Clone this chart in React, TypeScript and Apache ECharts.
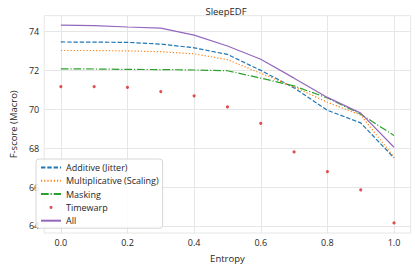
import React, { useEffect, useRef } from "react";
import * as echarts from "echarts";

const entropy = [0, 0.1, 0.2, 0.3, 0.4, 0.5, 0.6, 0.7, 0.8, 0.9, 1.0];
const additive = [73.46, 73.45, 73.44, 73.35, 73.16, 72.82, 72.0, 71.1, 69.95, 69.3, 67.5];
const multiplicative = [73.02, 73.02, 73.0, 72.96, 72.85, 72.55, 71.85, 71.15, 70.36, 69.7, 67.54];
const masking = [72.08, 72.07, 72.05, 72.04, 72.02, 71.98, 71.6, 71.2, 70.58, 69.75, 68.65];
const timewarp = [71.17, 71.17, 71.13, 70.91, 70.69, 70.12, 69.28, 67.81, 66.8, 65.86, 64.16];
const all = [74.33, 74.3, 74.23, 74.17, 73.81, 73.25, 72.57, 71.6, 70.61, 69.8, 68.05];
const xTicks = [0, 0.2, 0.4, 0.6, 0.8, 1.0];
const yTicks = [64, 66, 68, 70, 72, 74];
const legendNames = ["Additive (Jitter)", "Multiplicative (Scaling)", "Masking", "Timewarp", "All"];

const FONT = "Open Sans";
const GRID = "#e6e6e6";

function pairs(ys: number[]) {
  return entropy.map((x, i) => [x, ys[i]]);
}

export default function App() {
  const ref = useRef<HTMLDivElement>(null);
  useEffect(() => {
    if (!ref.current) return;
    const chart = echarts.init(ref.current, null, { renderer: "svg" });
    const lineSeries = (name: string, data: number[], color: string, type: any) => ({
      name,
      type: "line",
      data: pairs(data),
      symbol: "none",
      showSymbol: false,
      lineStyle: { color, width: 1.2, type },
      itemStyle: { color },
      z: 3,
    });
    chart.setOption({
      animation: false,
      textStyle: { fontFamily: FONT },
      title: {
        text: "SleepEDF",
        left: 221,
        top: 1,
        textAlign: "center",
        textStyle: { fontFamily: FONT, fontSize: 9.5, fontWeight: "normal", color: "#262626" },
      },
      grid: { left: 31.3, right: 4.3, top: 15.7, bottom: 31.3, show: true, borderColor: GRID, borderWidth: 1 },
      xAxis: {
        type: "value",
        min: -0.05,
        max: 1.05,
        name: "Entropy",
        nameLocation: "middle",
        nameGap: 20,
        nameTextStyle: { fontFamily: FONT, fontSize: 9.5, color: "#262626" },
        axisLine: { show: false },
        axisTick: { show: false, customValues: xTicks },
        axisLabel: {
          customValues: xTicks,
          formatter: (v: number) => v.toFixed(1),
          fontFamily: FONT,
          fontSize: 9,
          color: "#262626",
          margin: 5,
        },
        splitLine: { show: true, lineStyle: { color: GRID, width: 1 } },
      },
      yAxis: {
        type: "value",
        min: 63.64,
        max: 74.81,
        name: "F-score (Macro)",
        nameLocation: "middle",
        nameGap: 22,
        nameTextStyle: { fontFamily: FONT, fontSize: 9.5, color: "#262626" },
        axisLine: { show: false },
        axisTick: { show: false, customValues: yTicks },
        axisLabel: {
          customValues: yTicks,
          formatter: (v: number) => String(v),
          fontFamily: FONT,
          fontSize: 9,
          color: "#262626",
          margin: 5,
        },
        splitLine: { show: true, lineStyle: { color: GRID, width: 1 } },
      },
      legend: {
        orient: "vertical",
        left: 36,
        top: 159,
        padding: [4, 4, 3, 4],
        itemWidth: 20,
        itemHeight: 3,
        itemGap: 4.3,
        backgroundColor: "rgba(255,255,255,0.85)",
        borderColor: "#d6d6d6",
        borderWidth: 1,
        borderRadius: 3,
        textStyle: { fontFamily: FONT, fontSize: 9, color: "#262626" },
        data: legendNames.map((n) =>
          n === "Timewarp" ? { name: n } : { name: n, itemStyle: { opacity: 0 } }
        ),
      },
      series: [
        lineSeries("Additive (Jitter)", additive, "#1f77b4", [4.4, 1.9]),
        lineSeries("Multiplicative (Scaling)", multiplicative, "#ff7f0e", [1.2, 2]),
        lineSeries("Masking", masking, "#2ca02c", [7.7, 1.9, 1.2, 1.9]),
        {
          name: "Timewarp",
          type: "scatter",
          data: pairs(timewarp),
          symbol: "circle",
          symbolSize: 3.2,
          itemStyle: { color: "#d62728" },
          z: 3,
        },
        lineSeries("All", all, "#9467bd", "solid"),
      ],
    });
    return () => chart.dispose();
  }, []);
  return (
    <div
      ref={ref}
      style={{ position: "fixed", left: 0, top: 0, width: 415, height: 268, background: "#fff" }}
    />
  );
}
